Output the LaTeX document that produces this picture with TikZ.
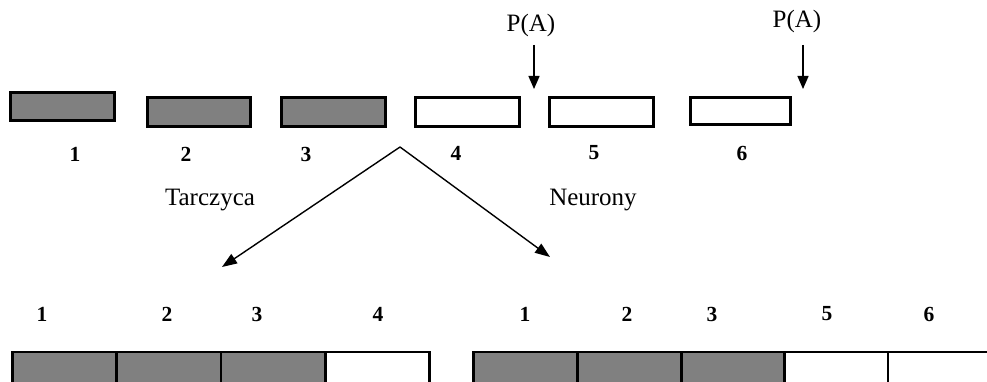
\documentclass[tikz,border=0pt]{standalone}
\usepackage{fontspec}
\setmainfont{Liberation Serif}
\usetikzlibrary{arrows.meta}
\definecolor{cellgray}{gray}{0.5}
\newcommand\numfont{\fontsize{21.5}{26}\selectfont\bfseries}
\newcommand\lblfont{\fontsize{25}{30}\selectfont}
\tikzset{
  unit/.style={draw=black, line width=2.8pt, inner sep=0pt, minimum height=29pt},
  filled/.style={unit, fill=cellgray},
  empty/.style={unit, fill=white},
  cell/.style={draw=black, line width=2.8pt, inner sep=0pt, minimum width=104pt, minimum height=44pt},
  num/.style={font=\numfont, inner sep=0pt},
  lbl/.style={font=\lblfont, inner sep=0pt},
  pointer/.style={line width=1.4pt, -{Triangle[length=13pt,width=11pt]}},
  split/.style={line width=1.4pt, -{Triangle[length=15pt,width=11pt]}}
}
\begin{document}
\begin{tikzpicture}[x=1pt,y=-1pt]
\clip (0,0) rectangle (987,382);
\fill[white] (0,0) rectangle (987,382);

% upper row of units
\node[filled, minimum width=104pt, minimum height=28pt] (u1) at (62.5,106.5) {};
\node[filled, minimum width=103pt] (u2) at (199,112) {};
\node[filled, minimum width=104pt] (u3) at (333.5,112) {};
\node[empty, minimum width=104pt] (u4) at (467.5,112) {};
\node[empty, minimum width=104pt] (u5) at (601.5,112) {};
\node[empty, minimum width=100pt, minimum height=27pt] (u6) at (740.5,111) {};

\node[num] (n1) at (75,154) {1};
\node[num] (n2) at (186,154) {2};
\node[num] (n3) at (306,154) {3};
\node[num] (n4) at (456,153) {4};
\node[num] (n5) at (594,153) {5};
\node[num] (n6) at (742,153) {6};

% P(A) markers
\node[lbl] (pa1) at (531,25) {P(A)};
\node[lbl] (pa2) at (797,21) {P(A)};
\coordinate (t1) at (534,89);
\coordinate (t2) at (803,89);
\draw[pointer] (534,45) -- (t1);
\draw[pointer] (803,45) -- (t2);

% split into two lineages
\coordinate (apex) at (400,147);
\coordinate (left) at (222,267);
\coordinate (right) at (550,257);
\draw[split] (apex) -- (left);
\draw[split] (apex) -- (right);
\node[lbl] (tar) at (210,200) {Tarczyca};
\node[lbl] (neu) at (593,200) {Neurony};

% lower left row
\node[num] (a1) at (42,314) {1};
\node[num] (a2) at (167,314) {2};
\node[num] (a3) at (257,314) {3};
\node[num] (a4) at (378,314) {4};
\node[cell, fill=cellgray] (l1) at (64.5,374) {};
\node[cell, fill=cellgray] (l2) at (169,374) {};
\node[cell, fill=cellgray] (l3) at (273,374) {};
\node[cell, fill=white] (l4) at (377.5,374) {};

% lower right row
\node[num] (b1) at (525,314) {1};
\node[num] (b2) at (627,314) {2};
\node[num] (b3) at (712,314) {3};
\node[num] (b5) at (827,314) {5};
\node[num] (b6) at (929,314) {6};
\node[cell, fill=cellgray] (r1) at (525.5,374) {};
\node[cell, fill=cellgray] (r2) at (629.5,374) {};
\node[cell, fill=cellgray] (r3) at (733.5,374) {};
\node[cell, fill=white] (r5) at (836.5,374) {};
\node[cell, fill=white] (r6) at (940,374) {};
\end{tikzpicture}
\end{document}
